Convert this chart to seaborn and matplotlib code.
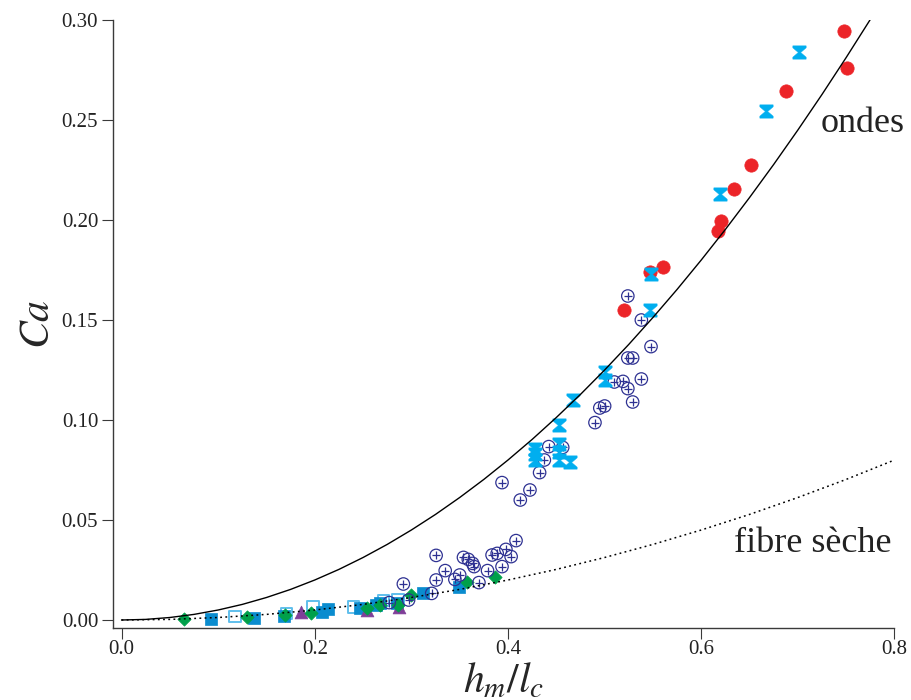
import numpy as np
import pandas as pd
import matplotlib
matplotlib.use("Agg")
import matplotlib.pyplot as plt
from matplotlib.path import Path
import seaborn as sns

# ---------------- data ----------------
curve_ondes_x = [0.0, 0.025, 0.05, 0.075, 0.1, 0.125, 0.15, 0.175, 0.2, 0.225, 0.25, 0.275,
                 0.3, 0.325, 0.35, 0.375, 0.4, 0.425, 0.45, 0.475, 0.5, 0.525, 0.55, 0.575,
                 0.6, 0.625, 0.65, 0.675, 0.7, 0.725, 0.75, 0.775]
curve_ondes_y = [0.0, 0.0003, 0.00125, 0.0028, 0.005, 0.0078, 0.01125, 0.0153, 0.02, 0.0253,
                 0.03125, 0.0378, 0.045, 0.0528, 0.06125, 0.0703, 0.08, 0.0903, 0.10125, 0.1128,
                 0.125, 0.1378, 0.15125, 0.1653, 0.18, 0.1953, 0.21125, 0.2278, 0.245, 0.2628,
                 0.28125, 0.3003]

curve_fibre_x = [0.0, 0.05, 0.1, 0.15, 0.2, 0.25, 0.3, 0.35, 0.4, 0.45, 0.5, 0.55, 0.6,
                 0.65, 0.7, 0.75, 0.8]
curve_fibre_y = [0.0, 0.0003, 0.00125, 0.0028, 0.005, 0.0078, 0.01125, 0.0153, 0.02, 0.0253,
                 0.03125, 0.0378, 0.045, 0.0528, 0.06125, 0.0703, 0.08]

red_x = [0.748, 0.751, 0.688, 0.651, 0.634, 0.620, 0.617, 0.560, 0.547, 0.520]
red_y = [0.2945, 0.276, 0.2645, 0.2275, 0.2155, 0.1997, 0.1947, 0.1763, 0.174, 0.155]

cyan_x = [0.701, 0.667, 0.6195, 0.5475, 0.547, 0.500, 0.500, 0.467, 0.4532, 0.4526,
          0.4526, 0.4526, 0.464, 0.428, 0.428, 0.428]
cyan_y = [0.284, 0.2545, 0.213, 0.173, 0.155, 0.124, 0.120, 0.110, 0.0975, 0.088,
          0.084, 0.080, 0.079, 0.0853, 0.083, 0.080]

navy_x = [0.524, 0.538, 0.548, 0.524, 0.529, 0.510, 0.519, 0.538, 0.524, 0.529, 0.495,
          0.500, 0.490, 0.4422, 0.4566, 0.4376, 0.4327, 0.3938, 0.4227, 0.4127, 0.4083, 0.3978,
          0.4032, 0.3835, 0.3888, 0.3938, 0.3788, 0.3699, 0.3539, 0.3589, 0.3634, 0.3649, 0.3256,
          0.335, 0.3256, 0.350, 0.345, 0.2917, 0.321, 0.2971, 0.2771]
navy_y = [0.162, 0.150, 0.1367, 0.131, 0.131, 0.119, 0.1193, 0.1205, 0.1157, 0.109, 0.106,
          0.107, 0.0987, 0.0867, 0.0863, 0.080, 0.0737, 0.0687, 0.065, 0.060, 0.0397, 0.0353,
          0.0317, 0.0325, 0.0333, 0.0267, 0.0247, 0.0187, 0.0313, 0.0303, 0.0283, 0.0267,
          0.0323, 0.0247, 0.020, 0.0225, 0.0203, 0.018, 0.0133, 0.010, 0.0087]

green_x = [0.065, 0.1296, 0.1695, 0.1959, 0.2542, 0.2672, 0.2861, 0.3001, 0.3574, 0.3868]
green_y = [0.0003, 0.0013, 0.0025, 0.0037, 0.0058, 0.0075, 0.0075, 0.0125, 0.0188, 0.0213]

blue_x = [0.0927, 0.1372, 0.1685, 0.2074, 0.2133, 0.2472, 0.2632, 0.2672, 0.2851, 0.312, 0.349]
blue_y = [0.0003, 0.0008, 0.002, 0.0042, 0.0055, 0.0058, 0.0075, 0.0083, 0.0083, 0.0137, 0.0167]

open_x = [0.1176, 0.171, 0.1984, 0.2403, 0.2712, 0.2861]
open_y = [0.0017, 0.0033, 0.0067, 0.0065, 0.0097, 0.010]

purple_x = [0.1855, 0.254, 0.2876]
purple_y = [0.0042, 0.005, 0.0063]

x_ticks = [0.0, 0.2, 0.4, 0.6, 0.8]
x_ticklabels = ["0.0", "0.2", "0.4", "0.6", "0.8"]
y_ticks = [0.00, 0.05, 0.10, 0.15, 0.20, 0.25, 0.30]
y_ticklabels = ["0.00", "0.05", "0.10", "0.15", "0.20", "0.25", "0.30"]

# ---------------- style ----------------
sns.set_style("ticks")
plt.rcParams["font.family"] = ["Liberation Serif", "DejaVu Serif"]
plt.rcParams["mathtext.fontset"] = "stix"

RED = "#ec2428"
CYAN = "#00aeef"
NAVY = "#2e3192"
GREEN = "#00a04a"
BLUE = "#0a8ccf"
OPEN = "#5fbfec"
PURPLE = "#7f3f98"
AXC = "#3a3a3a"

hourglass = Path([(-1, 1), (1, 1), (1, 0.7), (0.18, 0), (1, -0.7), (1, -1), (-1, -1),
                  (-1, -0.7), (-0.18, 0), (-1, 0.7), (-1, 1)],
                 [Path.MOVETO] + [Path.LINETO] * 9 + [Path.CLOSEPOLY])

fig = plt.figure(figsize=(9.12, 7.0), dpi=100)
ax = fig.add_axes([113.5 / 912, 1 - 627.7 / 700, 781 / 912, 607.7 / 700])

# curves
sns.lineplot(x=curve_ondes_x, y=curve_ondes_y, ax=ax, color="black", lw=1.0,
             sort=False, estimator=None)
sns.lineplot(x=curve_fibre_x, y=curve_fibre_y, ax=ax, color="black", lw=1.1,
             sort=False, estimator=None, linestyle=(0, (1.2, 2.2)))

def pts(x, y, **kw):
    sns.scatterplot(x=x, y=y, ax=ax, legend=False, **kw)
    return ax.collections[-1]

c = pts(open_x, open_y, marker="s", s=68, color="white")
c.set_facecolor("none"); c.set_edgecolor(OPEN); c.set_linewidth(1.4)
c = pts(blue_x, blue_y, marker="s", s=80, color=BLUE)
c.set_edgecolor(BLUE); c.set_linewidth(0.5)
c = pts(purple_x, purple_y, marker="^", s=85, color=PURPLE)
c.set_edgecolor(PURPLE); c.set_linewidth(0.5)
c = pts(green_x, green_y, marker="D", s=46, color=GREEN)
c.set_edgecolor(GREEN); c.set_linewidth(0.5)
c = pts(navy_x, navy_y, marker="o", s=80, color="white")
c.set_facecolor("none"); c.set_edgecolor(NAVY); c.set_linewidth(0.9)
c = pts(navy_x, navy_y, marker="+", s=34, color=NAVY)
c.set_linewidth(0.9)
c = pts(red_x, red_y, marker="o", s=92, color=RED)
c.set_edgecolor(RED); c.set_linewidth(0.5)
c = pts(cyan_x, cyan_y, marker=hourglass, s=92, color=CYAN)
c.set_edgecolor(CYAN); c.set_linewidth(0.3)

# axes
ax.set_xlim(-0.0083, 0.8)
ax.set_ylim(-0.00385, 0.30)
ax.set_xticks(x_ticks)
ax.set_xticklabels(x_ticklabels)
ax.set_yticks(y_ticks)
ax.set_yticklabels(y_ticklabels)
for s in ["top", "right"]:
    ax.spines[s].set_visible(False)
for s in ["left", "bottom"]:
    ax.spines[s].set_color(AXC)
    ax.spines[s].set_linewidth(1.0)
ax.tick_params(axis="both", direction="out", length=8, width=0.8, color=AXC,
               labelsize=15, labelcolor="#222222")
ax.tick_params(axis="x", pad=1)
ax.tick_params(axis="y", pad=3)

ax.set_xlabel("$h_m/l_c$", fontsize=30, labelpad=2)
ax.set_ylabel("$Ca$", fontsize=30, labelpad=3)

ax.text(0.724, 0.248, "ondes", fontsize=26, ha="left", va="center", color="#222222")
ax.text(0.634, 0.0385, "fibre sèche", fontsize=26, ha="left", va="center", color="#222222")

fig.savefig("out.png", dpi=100)
